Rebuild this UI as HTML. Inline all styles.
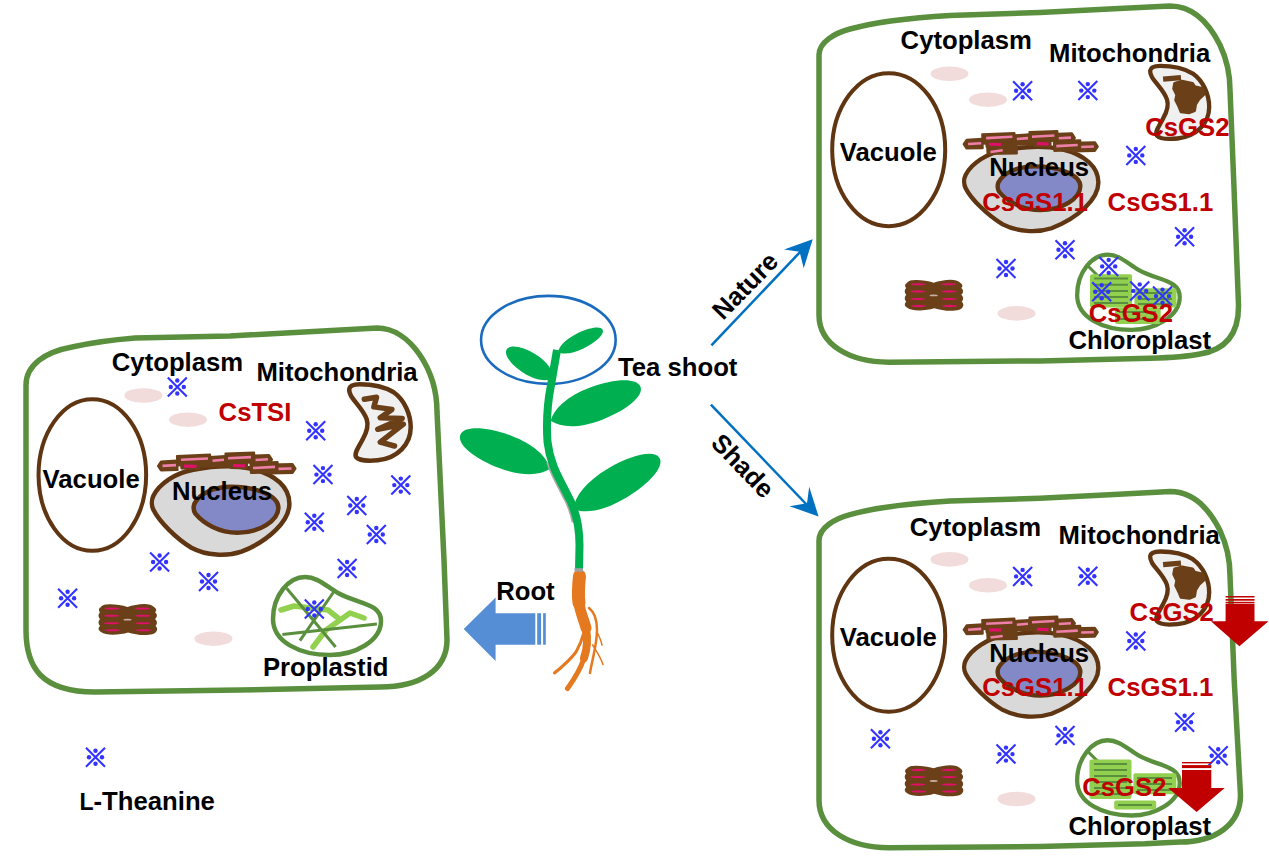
<!DOCTYPE html>
<html><head><meta charset="utf-8">
<style>
html,body{margin:0;padding:0;background:#fff;}
body{width:1269px;height:857px;overflow:hidden;}
svg{display:block;}
text{font-family:"Liberation Sans",sans-serif;font-weight:bold;font-size:25.7px;fill:#000;}
.r{fill:#c00000;}
</style></head><body>
<svg width="1269" height="857" viewBox="0 0 1269 857">
<defs>
  <g id="st">
    <path d="M-9.5 -9.5 L9.5 9.5 M-9.5 9.5 L9.5 -9.5" stroke="#3333ff" stroke-width="2.1"/>
    <circle cx="0" cy="-6.5" r="2.2" fill="#3333ff"/><circle cx="0" cy="6.5" r="2.2" fill="#3333ff"/>
    <circle cx="-6.5" cy="0" r="2.2" fill="#3333ff"/><circle cx="6.5" cy="0" r="2.2" fill="#3333ff"/>
  </g>
  <g id="oval"><ellipse cx="0" cy="0" rx="19" ry="7.3" fill="#f2dcdb"/></g>
  <g id="chromo">
    <path d="M3 4 C5 0 20 1 29.5 4 C38 1 52 -1 56 4 C59 6 58.5 8 57 9.2 C59.5 11 59.5 14 57 16 C59.5 18 59.5 21 57.5 23 C60 25 60 29 55 31 C48 33 38 32 30 29.5 C22 32 8 33 3 29 C0 27 0 25 2 23 C0 21 0 18 2 16 C0 14 0 11 2 9.2 C0 7 1 5 3 4 Z" fill="#6b4019"/>
    <g fill="#e0106a">
      <ellipse cx="14" cy="5.6" rx="7.5" ry="1.05"/><ellipse cx="44.5" cy="5.6" rx="7.5" ry="1.05"/>
      <ellipse cx="13.5" cy="12.7" rx="7.5" ry="1.05"/><ellipse cx="45" cy="12.7" rx="7.5" ry="1.05"/>
      <ellipse cx="13.5" cy="20.3" rx="7.5" ry="1.05"/><ellipse cx="45" cy="20.3" rx="7.5" ry="1.05"/>
      <ellipse cx="14.5" cy="27.2" rx="7.5" ry="1.05"/><ellipse cx="45.5" cy="27.2" rx="7.5" ry="1.05"/>
    </g>
    <ellipse cx="29.5" cy="16.7" rx="4" ry="0.9" fill="#c8b0a0"/>
  </g>
  <g id="er">
    <g fill="#6b4019" stroke="#6b4019" stroke-width="2.2" stroke-linejoin="round">
      <polygon points="0,13.5 3,9 19,8 19.5,17.5 3,18"/>
      <polygon points="23,10 41,10.5 41,16.5 23.5,16"/>
      <polygon points="40,9 74,9 74,14 40,14"/>
      <polygon points="73,10 89,10.5 89,16 73,15.5"/>
      <polygon points="19,3.5 52,2 52.5,11.5 19.5,13"/>
      <polygon points="52,4.5 67.5,3.5 68,11.5 52.5,12.5"/>
      <polygon points="67.5,1 96,0 96.5,10 68,11"/>
      <polygon points="96,3 111,2.5 114,7 111.5,11.5 96.5,12"/>
      <polygon points="92.5,10.5 119.5,9.5 120,19.5 93,20.5"/>
      <polygon points="111.5,12 134.5,11.5 137.5,16 134.5,20.5 112,21"/>
    </g>
    <path d="M4.5 13.4 L18 12.6 M23 7.3 L50 6 M54.5 8.3 L66 7.3 M70 5.8 L93 4.6 M97.5 7.5 L110 6.8 M95 15.5 L117 14.4 M120.5 16.4 L133.5 16" stroke="#ee7fa8" stroke-width="2.6" fill="none"/>
    <path d="M26 13.6 L38.5 13.8 M75 13 L87 13.3" stroke="#e0106a" stroke-width="3.2" fill="none"/>
  </g>
  <g id="er8">
    <polygon points="24,14 54,13.5 54.5,23 24.5,23.5" fill="#6b4019" stroke="#6b4019" stroke-width="2.2" stroke-linejoin="round"/>
    <path d="M27.5 21.5 L40 19.8" stroke="#ee7fa8" stroke-width="2.6"/>
  </g>
  <g id="nuc">
    <path d="M2 30 C8 18 24 7 42 4 C58 1 82 -1 100 3 C125 9 138 22 138 38 C138 55 118 75 90 86 C75 91 55 90 40 82 C25 73 8 56 2 44 C0 40 0 34 2 30 Z" fill="#d9d9d9" stroke="#603512" stroke-width="4.5"/>
    <path d="M43 38 C48 28 62 21 80 21 C105 21 127 30 127 42 C127 55 108 67 86 67 C68 67 52 58 44 48 C42 45 42 41 43 38 Z" fill="#8289c6" stroke="#603512" stroke-width="4.5"/>
  </g>
  <g id="nuc2">
    <path d="M2 30 C8 18 24 7 42 4 C58 1 82 -1 100 3 C125 9 138 22 138 38 C138 55 118 75 90 86 C75 91 55 90 40 82 C25 73 8 56 2 44 C0 40 0 34 2 30 Z" fill="#d9d9d9" stroke="#603512" stroke-width="4.5"/>
    <path d="M35.5 38 C40.5 28 54.5 21 72.5 21 C97.5 21 119.5 30 119.5 42 C119.5 55 100.5 67 78.5 67 C60.5 67 44.5 58 36.5 48 C34.5 45 34.5 41 35.5 38 Z" fill="#8289c6" stroke="#603512" stroke-width="4.5"/>
  </g>
  <path id="plast" d="M273 619 C273 595 289 577 305 577 C318 577 327 587 338 593 C358 604 381 603 381 621 C381 641 355 655 330 655 C300 655 273 642 273 619 Z"/>
  <g id="grana">
    <rect x="0" y="0" width="42" height="33" rx="3" fill="#92d050"/>
  </g>
</defs>

<!-- ================= LEFT CELL ================= -->
<path d="M26 385 C26 365 45 352 72 347 C90 343 110 340 135 338 L230 336 L377 328 C410 328 437 370 437 412 L444 560 L447 640 C447 670 420 687 380 687 L240 690 L95 692 C42 692 26 668 26 630 Z" fill="none" stroke="#5a8f3e" stroke-width="5.5"/>
<ellipse cx="92.35" cy="475" rx="53.8" ry="75.8" fill="none" stroke="#603512" stroke-width="4"/>
<use href="#oval" x="143.4" y="395.5"/><use href="#oval" x="188" y="419.7"/><use href="#oval" x="213.4" y="638.7"/>
<use href="#nuc" transform="translate(151.4,465.7)"/>
<use href="#er" x="158" y="452.5"/>
<!-- mitochondria -->
<g transform="translate(347.7,382.3)">
  <path d="M1.5 7 C2 3 6 2 12 2 C22 2 36 4 46 10 C57 18 63 32 63 45 C63 62 50 76 30 78 C20 79 11 78 8.5 75 C6 71 11 65 15 57 C19 50 21 43 19 37 C16 28 8 21 3.5 14 C2 11 1.3 9 1.5 7 Z" fill="#f0f0f0" stroke="#603512" stroke-width="4.5"/>
  <path d="M16.6 16.9 L28.8 14.9 L26.2 24.6 L44.2 27.1 L32.6 35.5 L54.5 36.1 L30.1 47 L55.7 41.9 L32.6 59.9 L46.8 63.7" fill="none" stroke="#6b4019" stroke-width="5.5" stroke-linejoin="round" stroke-linecap="round"/>
</g>
<use href="#chromo" x="98" y="603"/>
<!-- proplastid -->
<g>
  <use href="#plast" fill="none" stroke="#5a8f3e" stroke-width="4.5"/>
  <path d="M281 610 L294 606 L328 610 L338 618 M313 647 L326 630 L350 613 L364 618" fill="none" stroke="#92d050" stroke-width="5.5" stroke-linejoin="round" stroke-linecap="round"/>
  <path d="M286.6 588.2 L335.6 647 M334 591.5 L299.9 640.7 M282.4 634.4 L376.9 623.9" fill="none" stroke="#5a8f3e" stroke-width="3"/>
</g>
<text x="111.8" y="371.0">Cytoplasm</text>
<text x="256.4" y="380.7">Mitochondria</text>
<text x="218.6" y="420.6" class="r">CsTSI</text>
<text x="42.6" y="487.9">Vacuole</text>
<text x="172.0" y="500.1">Nucleus</text>
<text x="262.9" y="675.7">Proplastid</text>
<use href="#st" x="177.3" y="387"/><use href="#st" x="315.7" y="430.8"/><use href="#st" x="322.95" y="474.6"/>
<use href="#st" x="400.8" y="485.1"/><use href="#st" x="356.8" y="505.5"/><use href="#st" x="314.3" y="522.3"/>
<use href="#st" x="376.3" y="534.5"/><use href="#st" x="159.6" y="562"/><use href="#st" x="208.5" y="581.5"/>
<use href="#st" x="347.1" y="568.5"/><use href="#st" x="67.6" y="598.3"/><use href="#st" x="314.3" y="609"/>

<!-- legend -->
<use href="#st" x="95.5" y="757.2"/>
<text x="79.5" y="810.1"><tspan font-size="23">L</tspan>-Theanine</text>

<!-- ================= PLANT ================= -->
<ellipse cx="548.35" cy="339.9" rx="67.3" ry="44" fill="none" stroke="#1a6bbd" stroke-width="2.6"/>
<g fill="#00b050">
  <path d="M-48.0 0.0 C-40.8 -10.3 -24.0 -17.2 0.0 -17.2 C26.4 -17.2 48.0 -10.0 48.0 0.0 C48.0 10.0 26.4 17.2 0.0 17.2 C-24.0 17.2 -40.8 10.3 -48.0 0.0 Z" transform="translate(595.6 403.8) rotate(-20.7)"/>
  <path d="M-48.0 0.0 C-40.8 -10.3 -24.0 -17.2 0.0 -17.2 C26.4 -17.2 48.0 -10.0 48.0 0.0 C48.0 10.0 26.4 17.2 0.0 17.2 C-24.0 17.2 -40.8 10.3 -48.0 0.0 Z" transform="translate(505.2 451.9) rotate(200.7)"/>
  <path d="M-50.0 0.0 C-42.5 -10.3 -25.0 -17.2 0.0 -17.2 C27.5 -17.2 50.0 -10.0 50.0 0.0 C50.0 10.0 27.5 17.2 0.0 17.2 C-25.0 17.2 -42.5 10.3 -50.0 0.0 Z" transform="translate(616.5 483.5) rotate(-30.6)"/>
  <path d="M-27.4 0.0 C-23.3 -6.7 -13.7 -11.1 0.0 -11.1 C15.1 -11.1 27.4 -6.4 27.4 0.0 C27.4 6.4 15.1 11.1 0.0 11.1 C-13.7 11.1 -23.3 6.7 -27.4 0.0 Z" transform="translate(530.0 363.8) rotate(212.0)"/>
  <path d="M-25.0 0.0 C-21.2 -4.9 -12.5 -8.2 0.0 -8.2 C13.8 -8.2 25.0 -4.8 25.0 0.0 C25.0 4.8 13.8 8.2 0.0 8.2 C-12.5 8.2 -21.2 4.9 -25.0 0.0 Z" transform="translate(580.3 341.0) rotate(-26.5)"/>
</g>
<clipPath id="shc"><rect x="530" y="462" width="60" height="60"/></clipPath>
<path d="M579 570 L579.5 545 C579.5 525 575 508 567 494 C559 478 550 464 547.5 442" transform="translate(-1.5,0.6)" fill="none" stroke="#a8a8a8" stroke-width="8" clip-path="url(#shc)"/>
<path d="M579 570 L579.5 545 C579.5 525 575 508 567 494 C559 478 550 464 547.5 442 C546 420 548 400 551 385 L557 350" fill="none" stroke="#00b050" stroke-width="8"/>
<!-- root -->
<g fill="none" stroke="#e4791f" stroke-linecap="round" stroke-linejoin="round">
  <path d="M579.5 576 C578.5 585 578 595 579 603" stroke-width="13"/>
  <path d="M579 603 C580 612 584 620 586 628" stroke-width="11"/>
  <path d="M586 628 C588 640 587 650 584 658" stroke-width="8"/>
  <path d="M584 658 C581 668 575 678 567.5 688.5" stroke-width="5"/>
  <path d="M584 632 C582 640 580 645 576 652 C570 660 562 667 554.5 673" stroke-width="3"/>
  <path d="M589 608 C594 612 597 620 597 630 C597 645 592 660 590 673" stroke-width="2.5"/>
  <path d="M592.6 645 C597 652 601 658 603 664.5" stroke-width="1.5"/>
  <path d="M597 632 C599 636 601 640 602 645" stroke-width="1.5"/>
</g>
<rect x="574.5" y="568.2" width="8.4" height="3.5" fill="#a0a0a0"/>
<text x="618.0" y="376.2">Tea shoot</text>
<text x="496.2" y="599.8">Root</text>
<!-- root arrow -->
<g fill="#558ed5">
  <polygon points="463.7,628.9 495.6,597.4 495.6,613.2 535.3,613.2 535.3,644.7 495.6,644.7 495.6,661"/>
  <rect x="537.2" y="613.2" width="3.9" height="31.5"/><rect x="543.1" y="613.2" width="2.7" height="31.5"/>
</g>
<!-- nature / shade arrows -->
<g stroke="#0070c0" stroke-width="2.5">
  <line x1="711.4" y1="345.4" x2="802" y2="250"/>
  <line x1="710.9" y1="404.6" x2="808" y2="506"/>
</g>
<polygon points="812.7,239.3 784.1,249.4 799.6,251.8 803.7,268.2" fill="#0070c0"/>
<polygon points="818.6,516.5 809.2,486.8 807,503.2 789.5,506.2" fill="#0070c0"/>
<text x="745" y="285.7" text-anchor="middle" transform="rotate(-45.7 745 285.7)" dy="9">Nature</text>
<text x="743" y="465.7" text-anchor="middle" transform="rotate(46.1 743 465.7)" dy="9">Shade</text>

<!-- ================= TOP RIGHT CELL ================= -->
<path d="M819 315 L819 55 C819 42 835 33 850 29 C875 22 905 18 950 15.4 L1040 12.6 L1114 8.8 L1170 6 C1195 6 1210 25 1220 45 C1228 62 1230 75 1230 90 L1233.7 180 L1238.5 305 C1239 335 1225 350 1200 354 C1190 356 1175 357.5 1150 358.3 L1040 360.9 L888.8 362.2 C850 362 819 345 819 315 Z" fill="none" stroke="#5a8f3e" stroke-width="5.5"/>
<g id="cellT">
<ellipse cx="888.7" cy="149.65" rx="56.5" ry="76.5" fill="none" stroke="#603512" stroke-width="4"/>
<use href="#oval" x="949.5" y="73.8"/><use href="#oval" x="988" y="99.7"/><use href="#oval" x="1016.5" y="313.4"/>
<use href="#nuc2" transform="translate(963.7,146.3) scale(0.976,0.952)"/>
<use href="#er8" transform="translate(963.7,131) scale(0.975)"/>
<use href="#er" transform="translate(963.7,131) scale(0.975)"/>
<use href="#chromo" x="904.2" y="278.7"/>
<text x="839.8" y="160.6">Vacuole</text>
<text x="989.2" y="176.0">Nucleus</text>
<text x="982.2" y="210.7" class="r">CsGS1.1</text>
<text x="1107.6" y="210.7" class="r">CsGS1.1</text>
<text x="1068.4" y="349.2">Chloroplast</text>
<use href="#st" x="1022.6" y="90.8"/><use href="#st" x="1087.8" y="90.6"/><use href="#st" x="1135.8" y="155.4"/>
<use href="#st" x="1184.6" y="236.7"/><use href="#st" x="1065" y="249.8"/><use href="#st" x="1006" y="268.5"/>
<!-- mitochondria T -->
<g transform="translate(1148.7,64) scale(0.96,0.955)">
  <path d="M1.5 7 C2 3 6 2 12 2 C22 2 36 4 46 10 C57 18 63 32 63 45 C63 62 50 76 30 78 C20 79 11 78 8.5 75 C6 71 11 65 15 57 C19 50 21 43 19 37 C16 28 8 21 3.5 14 C2 11 1.3 9 1.5 7 Z" fill="#f0f0f0" stroke="#603512" stroke-width="4.5"/>
  <polygon points="27,20.2 34.7,18 45.6,20.2 47.8,23.6 56.6,25.8 58.2,31.2 52.2,36.8 48.9,42.2 47.8,48.8 42.3,51 33.6,50 31.4,44.4 28.1,37.8 29.2,32.4 26,25.8" fill="#6b4019" stroke="#6b4019" stroke-width="3" stroke-linejoin="round"/>
  <path d="M15 15.8 L33.6 14.2" stroke="#6b4019" stroke-width="5.5" stroke-linecap="butt"/>
</g>
</g>
<text x="900.6" y="49.3">Cytoplasm</text>
<text x="1049.0" y="62.0">Mitochondria</text>
<text x="1145.2" y="136" class="r">CsGS2</text>
<!-- chloroplast T -->
<use href="#plast" transform="translate(817.8,-302.2) scale(0.95,0.965)" fill="none" stroke="#5a8f3e" stroke-width="4.5"/>
<line x1="1088" y1="266" x2="1098" y2="276" stroke="#5a8f3e" stroke-width="3"/>
<g fill="#92d050">
  <rect x="1090" y="274.2" width="42" height="33.3" rx="2"/>
  <rect x="1134.5" y="288.2" width="42" height="19.3" rx="2"/>
  <rect x="1115" y="307.5" width="45.7" height="16.5" rx="2"/>
</g>
<g stroke="#5a8f3e" stroke-width="2">
  <path d="M1094 278.6 H1128 M1094 284.7 H1128 M1094 290.9 H1128 M1094 297 H1128 M1094 303.1 H1128 M1138 293 H1172 M1138 299 H1172 M1138 304 H1172 M1119 312 H1156 M1119 319 H1156"/>
</g>
<use href="#st" x="1108.7" y="266.4"/><use href="#st" x="1101.7" y="291.7"/><use href="#st" x="1139.7" y="290.9"/><use href="#st" x="1162.5" y="296.1"/>
<text x="1088.8" y="322.1" class="r">CsGS2</text>

<!-- ================= BOTTOM RIGHT CELL ================= -->
<path d="M819 800 L819 540.6 C819 527.6 835 518.6 850 514.6 C875 507.6 905 503.6 950 501 L1040 498.2 L1114 494.4 L1170 491.6 C1195 491.6 1210 510.6 1220 530.6 C1228 547.6 1230 560.6 1230 575.6 L1234.2 680 L1240.5 795 C1240.5 825 1215 842 1180 842.1 L1145 843.8 L1040 846.5 L888.8 847.8 C850 847.6 819 830.6 819 800 Z" fill="none" stroke="#5a8f3e" stroke-width="5.5"/>
<use href="#cellT" transform="translate(0,485.6)"/>
<text x="909.8" y="536.0">Cytoplasm</text>
<text x="1058.6" y="544.2">Mitochondria</text>
<use href="#st" x="880.4" y="738.8"/><use href="#st" x="1218.2" y="755.7"/>
<!-- chloroplast B -->
<use href="#plast" transform="translate(817.8,183.4) scale(0.95,0.965)" fill="none" stroke="#5a8f3e" stroke-width="4.5"/>
<line x1="1088" y1="751.6" x2="1098" y2="761.6" stroke="#5a8f3e" stroke-width="3"/>
<g fill="#92d050">
  <rect x="1089.5" y="759.5" width="42" height="39.4" rx="2"/>
  <rect x="1133.4" y="773.3" width="43" height="21" rx="2"/>
  <rect x="1114.2" y="800.4" width="42" height="9.2" rx="2"/>
</g>
<g stroke="#5a8f3e" stroke-width="2">
  <path d="M1094 764 H1127 M1094 770 H1127 M1094 776 H1127 M1094 782 H1127 M1094 788 H1127 M1094 794 H1127 M1137 778 H1172 M1137 784 H1172 M1137 790 H1172 M1118 805 H1152"/>
</g>
<text x="1082.2" y="795.6" class="r">CsGS2</text>
<text x="1129.6" y="621.2" class="r">CsGS2</text>
<!-- red arrows -->
<g fill="#c00000">
  <polygon points="1225.6,603.7 1254.5,603.7 1254.5,621.2 1268.5,621.2 1239.4,646.2 1210.9,621.2 1225.6,621.2"/>
  <rect x="1225.6" y="596" width="28.9" height="1.5"/><rect x="1225.6" y="599" width="28.9" height="1.7"/><rect x="1225.6" y="601.8" width="28.9" height="1.4"/>
  <polygon points="1182,770 1211.3,770 1211.3,787.9 1224.7,787.9 1196.6,812.1 1168.2,787.9 1182,787.9"/>
  <rect x="1182" y="762" width="29.3" height="1.4"/><rect x="1182" y="765.1" width="29.3" height="3"/>
</g>
</svg>
</body></html>
